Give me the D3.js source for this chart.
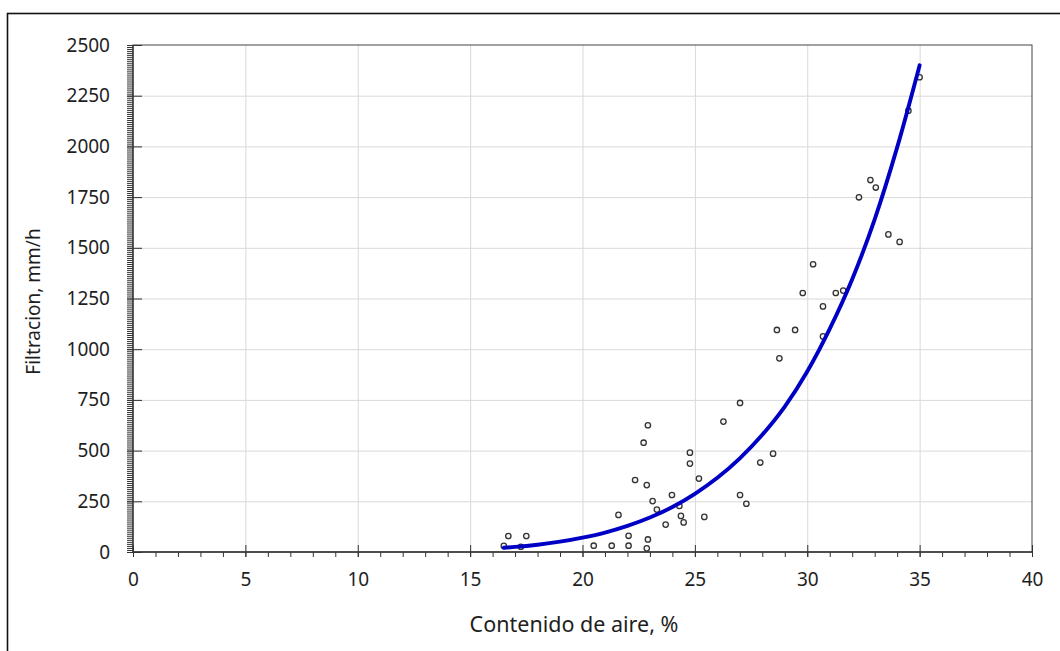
<!DOCTYPE html>
<html>
<head>
<meta charset="utf-8">
<script src="https://cdn.jsdelivr.net/npm/d3@7"></script>
<style>
  html, body { margin: 0; padding: 0; background: #fff; }
  svg { display: block; }
  text { font-family: "Noto Sans", "Open Sans", sans-serif; fill: #1e1e1e; }
</style>
</head>
<body>
<svg id="chart" width="1060" height="651"></svg>
<script>
// Measured samples: air content (%) vs. filtration rate (mm/h)
const airContent = [
  16.5, 16.7, 17.26, 17.5, 20.5, 21.3, 21.6, 22.05, 22.05, 22.34,
  22.72, 22.91, 22.86, 22.91, 22.86, 23.12, 23.31, 23.7, 23.98, 24.31,
  24.38, 24.5, 24.78, 24.78, 25.18, 25.42, 26.27, 27.01, 27.01, 27.29,
  27.91, 28.48, 28.76, 28.65, 29.46, 29.8, 30.26, 30.7, 30.7, 31.27,
  31.6, 32.3, 32.81, 33.05, 33.61, 34.11, 34.5, 35.0
];
const filtration = [
  30, 79, 26, 79, 31, 31, 183, 31, 80, 355,
  539, 625, 330, 62, 18, 251, 209, 135, 281, 227,
  178, 146, 490, 436, 362, 173, 643, 735, 281, 238,
  441, 485, 955, 1095, 1095, 1277, 1419, 1063, 1211, 1277,
  1289, 1749, 1834, 1797, 1566, 1529, 2176, 2341
];

// Trend line, sampled along its length
const trendX = [16.5, 17, 18, 19, 20, 21, 22, 23, 24, 25, 26, 27, 28, 29, 30, 31, 32, 33, 34, 35];
const trendY = [21, 25, 36, 51, 71, 96, 129, 170, 222, 287, 366, 462, 578, 717, 890, 1100, 1345, 1640, 1995, 2400];

// Axis ticks
const xMajorTicks = [0, 5, 10, 15, 20, 25, 30, 35, 40];
const xMinorTicks = d3.range(0, 41, 1);
const yMajorTicks = [0, 250, 500, 750, 1000, 1250, 1500, 1750, 2000, 2250, 2500];
const yMinorTicks = d3.range(0, 2501, 10);

const xTitle = "Contenido de aire, %";
const yTitle = "Filtracion, mm/h";

const svg = d3.select("#chart");
const W = 1060, H = 651;
const plot = { left: 133, right: 1032, top: 45, bottom: 552 };

// Outer frame (runs off the right and bottom edges)
svg.append("rect")
  .attr("x", 7.5).attr("y", 13.5)
  .attr("width", W + 20).attr("height", H + 20)
  .attr("fill", "#fff").attr("stroke", "#111").attr("stroke-width", 1.6);

const x = d3.scaleLinear().domain([0, 40]).range([plot.left, plot.right]);
const y = d3.scaleLinear().domain([0, 2500]).range([plot.bottom, plot.top]);

const pw = plot.right - plot.left, ph = plot.bottom - plot.top;

// Gridlines
svg.append("g")
  .attr("transform", `translate(0,${plot.bottom})`)
  .call(d3.axisBottom(x).tickValues(xMajorTicks.slice(1, -1)).tickSize(-ph).tickFormat(""))
  .call(g => g.select(".domain").remove())
  .call(g => g.selectAll("line").attr("stroke", "#d9d9d9").attr("stroke-width", 1));
svg.append("g")
  .attr("transform", `translate(${plot.left},0)`)
  .call(d3.axisLeft(y).tickValues(yMajorTicks.slice(1, -1)).tickSize(-pw).tickFormat(""))
  .call(g => g.select(".domain").remove())
  .call(g => g.selectAll("line").attr("stroke", "#d9d9d9").attr("stroke-width", 1));

// Plot frame
svg.append("rect")
  .attr("x", plot.left).attr("y", plot.top)
  .attr("width", pw).attr("height", ph)
  .attr("fill", "none").attr("stroke", "#444").attr("stroke-width", 1);

const axisColor = "#333";
const styleAxis = g => {
  g.selectAll("line").attr("stroke", axisColor);
  g.select(".domain").remove();
};

// X axis: minor ticks hang below, major ticks cross the axis
svg.append("g")
  .attr("transform", `translate(0,${plot.bottom})`)
  .call(d3.axisBottom(x).tickValues(xMinorTicks).tickSize(5).tickFormat(""))
  .call(styleAxis);
svg.append("g")
  .attr("transform", `translate(0,${plot.bottom})`)
  .call(d3.axisTop(x).tickValues(xMajorTicks).tickSize(7).tickFormat(""))
  .call(styleAxis);
svg.append("g")
  .attr("transform", `translate(0,${plot.bottom})`)
  .call(d3.axisBottom(x).tickValues(xMajorTicks).tickSize(5).tickPadding(16).tickFormat(d3.format("d")))
  .call(styleAxis)
  .call(g => g.selectAll("text").attr("font-size", 19).attr("fill", "#1e1e1e"));

// Y axis: minor ticks point outward, major ticks cross the axis
svg.append("g")
  .attr("transform", `translate(${plot.left},0)`)
  .call(d3.axisLeft(y).tickValues(yMinorTicks).tickSize(6).tickFormat(""))
  .call(styleAxis);
svg.append("g")
  .attr("transform", `translate(${plot.left},0)`)
  .call(d3.axisRight(y).tickValues(yMajorTicks).tickSize(9).tickFormat(""))
  .call(styleAxis);
svg.append("g")
  .attr("transform", `translate(${plot.left},0)`)
  .call(d3.axisLeft(y).tickValues(yMajorTicks).tickSize(6).tickPadding(17).tickFormat(d3.format("d")))
  .call(styleAxis)
  .call(g => g.selectAll("text").attr("font-size", 19).attr("fill", "#1e1e1e"));

// Axis lines
svg.append("line")
  .attr("x1", plot.left).attr("x2", plot.right)
  .attr("y1", plot.bottom).attr("y2", plot.bottom)
  .attr("stroke", axisColor).attr("stroke-width", 1.3);
svg.append("line")
  .attr("x1", plot.left).attr("x2", plot.left)
  .attr("y1", plot.top).attr("y2", plot.bottom)
  .attr("stroke", axisColor).attr("stroke-width", 1.3);

// Sample points
const points = airContent.map((v, i) => ({ x: v, y: filtration[i] }));
svg.append("g")
  .selectAll("circle")
  .data(points)
  .join("circle")
  .attr("cx", d => x(d.x))
  .attr("cy", d => y(d.y))
  .attr("r", 2.7)
  .attr("fill", "#f4f4f4")
  .attr("stroke", "#333")
  .attr("stroke-width", 1.3);

// Trend line
const trend = trendX.map((v, i) => ({ x: v, y: trendY[i] }));
svg.append("path")
  .datum(trend)
  .attr("fill", "none")
  .attr("stroke", "#0000c4")
  .attr("stroke-width", 3.9)
  .attr("stroke-linecap", "round")
  .attr("d", d3.line().x(d => x(d.x)).y(d => y(d.y)).curve(d3.curveMonotoneX));

// Axis titles
svg.append("text")
  .attr("x", 574).attr("y", 632)
  .attr("text-anchor", "middle")
  .attr("font-size", 21.5)
  .text(xTitle);
svg.append("text")
  .attr("transform", `translate(40,${(plot.top + plot.bottom) / 2 + 3}) rotate(-90)`)
  .attr("text-anchor", "middle")
  .attr("font-size", 19)
  .text(yTitle);
</script>
</body>
</html>
